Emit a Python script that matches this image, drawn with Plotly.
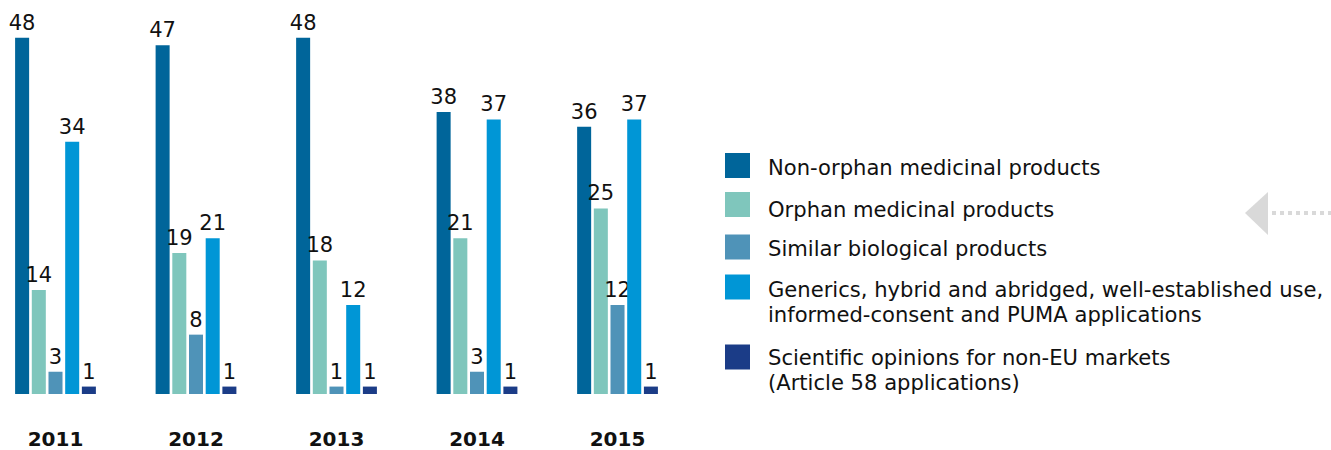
import plotly.graph_objects as go

years = ["2011", "2012", "2013", "2014", "2015"]
series_names = [
    "Non-orphan medicinal products",
    "Orphan medicinal products",
    "Similar biological products",
    "Generics, hybrid and abridged, well-established use,<br>informed-consent and PUMA applications",
    "Scientific opinions for non-EU markets<br>(Article 58 applications)",
]
non_orphan = [48, 47, 48, 38, 36]
orphan = [14, 19, 18, 21, 25]
similar_bio = [3, 8, 1, 3, 12]
generics = [34, 21, 12, 37, 37]
article58 = [1, 1, 1, 1, 1]
colors = ["#00659a", "#7fc6bc", "#4f93b8", "#0096d6", "#1b3c87"]

values = [non_orphan, orphan, similar_bio, generics, article58]
FONT = "DejaVu Sans, Verdana, sans-serif"

fig = go.Figure()
for name, vals, col in zip(series_names, values, colors):
    fig.add_trace(go.Bar(
        x=years, y=vals, name=name.replace("<br>", " "),
        marker=dict(color=col, line=dict(width=0)),
        text=[str(v) for v in vals], textposition="outside", constraintext="none",
        textfont=dict(family=FONT, size=21, color="#111111"),
        cliponaxis=False, showlegend=False,
    ))

W, H = 1331, 450
TOP, BOTTOM = 10, 394
plot_w = 700
fig.update_layout(
    width=W, height=H,
    margin=dict(l=0, r=0, t=TOP, b=H - BOTTOM, autoexpand=False),
    paper_bgcolor="white", plot_bgcolor="white",
    barmode="group", bargap=0.406, bargroupgap=0.16,
    font=dict(family=FONT, size=20, color="#111111"),
    xaxis=dict(domain=[0, plot_w / W], type="category", range=[-0.395, 4.587],
               showgrid=False, showline=False, zeroline=False, ticks="",
               tickfont=dict(family=FONT, size=20, color="#111111", weight="bold"),
               ticklabelstandoff=31, automargin=False),
    yaxis=dict(range=[0, 51.75], visible=False),
)


def px_x(x):
    return x / W


def px_y(y):
    return (BOTTOM - y) / (BOTTOM - TOP)


# custom legend
sq_centers = [165.5, 204.5, 247, 287, 357]
first_line_centers = [167, 209, 249, 289, 357]
line_step = 25
for name, col, sc, tc in zip(series_names, colors, sq_centers, first_line_centers):
    fig.add_shape(type="rect", xref="paper", yref="paper",
                  x0=px_x(725), x1=px_x(750), y0=px_y(sc + 12.5), y1=px_y(sc - 12.5),
                  fillcolor=col, line=dict(width=0))
    for i, line in enumerate(name.split("<br>")):
        fig.add_annotation(xref="paper", yref="paper", x=px_x(766), y=px_y(tc + i * line_step),
                           xanchor="left", yanchor="middle", align="left", showarrow=False,
                           text=line, font=dict(family=FONT, size=21.1, color="#111111"))

# decorative arrow
fig.add_shape(type="path", xref="paper", yref="paper",
              path=f"M {px_x(1245)} {px_y(213)} L {px_x(1268)} {px_y(192)} L {px_x(1268)} {px_y(235)} Z",
              fillcolor="#d9d9d9", line=dict(width=0))
fig.add_shape(type="line", xref="paper", yref="paper",
              x0=px_x(1272), x1=px_x(1331), y0=px_y(213), y1=px_y(213),
              line=dict(color="#d9d9d9", width=4, dash="dot"))

fig.write_html("out.html", config={"displayModeBar": False},
               post_script="document.body.style.margin='0';document.body.style.padding='0';")
